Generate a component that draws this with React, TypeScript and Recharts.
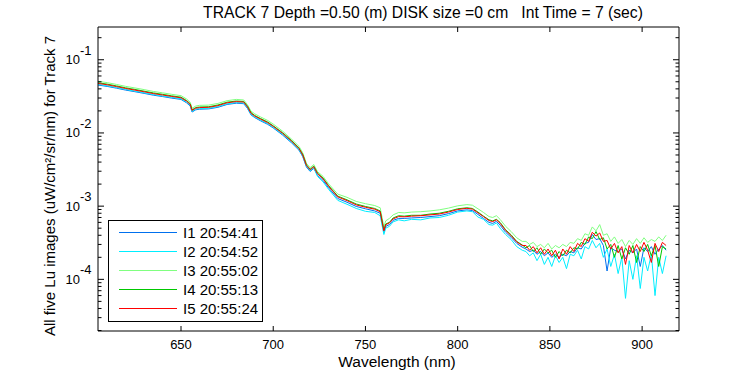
import React from 'react';
import { LineChart, Line, XAxis, YAxis, Legend } from 'recharts';

// wavelength grid (nm)
const wavelength = [
  605, 610, 615, 620, 625, 630, 635, 640, 645, 650,
  653, 655, 656, 658, 660, 665, 670, 675, 680, 684,
  686, 688, 690, 693, 697, 700, 705, 710, 714, 716,
  718, 720, 722, 724, 727, 730, 735, 740, 745, 750,
  755, 758, 760, 761, 763, 765, 768, 771, 775, 780,
  785, 790, 795, 800, 805, 808, 811, 814, 817, 819,
  821, 823, 826, 829, 832, 835,
  837, 839, 841, 843, 845, 847, 849, 851, 853, 855,
  857, 859, 861, 863, 865, 867, 869, 871, 873, 875,
  877, 879, 881, 883, 885, 887, 889, 891, 893, 895,
  897, 899, 901, 903, 905, 907, 909, 911, 913,
];

// Lu values, in units of 1e-4 uW/cm^2/sr/nm
const lu1 = [
  451, 432, 409, 385, 366, 347, 328, 314, 299, 287,
  258, 233, 193, 207, 211, 213, 224, 245, 255, 251,
  217, 176, 162, 147, 131, 117, 94, 73, 58, 47.5,
  34.2, 29.8, 32.8, 26.3, 22.5, 17.8, 12.7, 11.3, 9.9, 9.2,
  8.6, 8.0, 4.4, 5.3, 5.6, 6.4, 6.8, 6.8, 6.9, 7.0,
  7.2, 7.4, 7.9, 8.6, 8.9, 8.7, 7.7, 6.8, 6.0, 5.8,
  6.2, 5.5, 4.4, 3.75, 3.1, 2.75,
  2.6, 2.4, 2.5, 2.2, 2.4, 2.1, 2.3, 2.0, 2.2, 2.0,
  2.2, 2.1, 2.4, 2.3, 2.7, 2.6, 3.1, 3.2, 4.1, 3.5,
  3.6, 2.9, 1.3, 2.7, 2.5, 2.4, 2.6, 1.9, 2.5, 2.3,
  2.6, 1.5, 2.7, 2.4, 2.8, 2.2, 2.6, 2.9, 2.5,
];
const lu2 = [
  461, 441, 417, 393, 373, 354, 335, 320, 306, 293,
  264, 238, 197, 211, 215, 217, 229, 250, 260, 256,
  221, 179, 165, 150, 134, 119, 96, 75, 59, 48.5,
  35, 30.5, 33.5, 25.5, 21.5, 17.0, 12.0, 10.6, 9.3, 8.5,
  8.2, 7.4, 4.1, 5.0, 5.3, 6.1, 6.5, 6.3, 6.6, 6.5,
  6.9, 7.0, 7.5, 8.3, 8.6, 8.4, 7.1, 6.6, 5.6, 5.5,
  5.9, 5.0, 4.1, 3.5, 2.8, 2.5,
  2.4, 2.1, 2.3, 1.8, 2.2, 1.6, 2.0, 1.5, 2.1, 1.7,
  2.0, 1.4, 2.2, 2.1, 2.5, 1.9, 2.8, 2.6, 3.4, 2.7,
  3.1, 2.0, 2.6, 1.5, 2.2, 1.2, 2.0, 0.55, 1.8, 1.0,
  2.1, 0.75, 2.0, 1.3, 2.2, 0.6, 2.0, 1.2, 2.1,
];
const lu3 = [
  508, 487, 460, 433, 412, 391, 369, 353, 337, 323,
  291, 262, 217, 233, 238, 240, 253, 276, 287, 282,
  244, 198, 182, 166, 148, 132, 106, 82, 65.5, 53.5,
  38.5, 33.6, 37.0, 29.6, 25.5, 20.2, 14.6, 13.2, 11.6, 10.8,
  10.2, 9.5, 5.2, 6.3, 6.8, 7.6, 8.2, 8.1, 8.3, 8.4,
  8.6, 8.9, 9.4, 10.1, 10.5, 10.3, 9.2, 8.2, 7.2, 7.0,
  7.4, 6.6, 5.3, 4.5, 3.7, 3.3,
  3.3, 3.0, 3.2, 2.8, 3.0, 2.7, 3.1, 2.6, 2.9, 2.7,
  3.0, 2.8, 3.2, 3.1, 3.6, 3.4, 4.2, 4.0, 5.2, 4.6,
  5.6, 4.0, 4.2, 3.3, 3.8, 3.1, 3.5, 2.8, 3.4, 3.0,
  3.6, 3.1, 3.7, 3.2, 3.5, 3.3, 3.8, 3.4, 4.0,
];
const lu4 = [
  485, 464, 439, 413, 393, 372, 352, 337, 321, 308,
  277, 250, 207, 222, 226, 228, 241, 263, 273, 269,
  233, 189, 173, 158, 141, 125, 101, 78.5, 62, 51,
  36.7, 32, 35.2, 28.3, 24.2, 19.1, 13.7, 12.2, 10.7, 9.9,
  9.3, 8.6, 4.7, 5.7, 6.0, 6.9, 7.4, 7.3, 7.5, 7.5,
  7.8, 8.0, 8.5, 9.2, 9.5, 9.3, 8.3, 7.3, 6.5, 6.3,
  6.6, 6.0, 4.75, 4.05, 3.3, 2.95,
  2.7, 2.9, 2.4, 2.7, 2.2, 2.6, 2.3, 2.5, 2.0, 2.4,
  2.1, 2.5, 2.3, 2.7, 2.6, 3.2, 3.0, 3.8, 3.6, 4.5,
  3.5, 3.7, 2.6, 3.0, 2.0, 2.9, 1.9, 2.7, 2.2, 2.9,
  1.7, 2.8, 2.4, 3.0, 2.1, 2.9, 1.5, 2.8, 2.6,
];
const lu5 = [
  475, 455, 430, 405, 385, 365, 345, 330, 315, 302,
  272, 245, 203, 218, 222, 224, 236, 258, 268, 264,
  228, 185, 170, 155, 138, 123, 99, 77, 61, 50,
  36, 31.4, 34.5, 27.7, 23.7, 18.7, 13.4, 11.9, 10.4, 9.66,
  9.08, 8.38, 4.6, 5.6, 5.9, 6.7, 7.2, 7.15, 7.3, 7.4,
  7.6, 7.8, 8.3, 9.0, 9.35, 9.1, 8.1, 7.2, 6.35, 6.15,
  6.5, 5.85, 4.65, 3.95, 3.25, 2.9,
  2.9, 2.5, 2.8, 2.3, 2.7, 2.2, 2.6, 2.1, 2.5, 1.9,
  2.6, 2.2, 2.8, 2.4, 3.1, 2.8, 3.6, 3.3, 4.4, 3.9,
  4.3, 3.3, 3.4, 2.6, 3.1, 2.3, 2.8, 1.6, 2.9, 2.3,
  3.0, 2.4, 3.2, 2.5, 1.7, 3.1, 2.4, 3.2, 2.9,
];
const UNIT = 1e-4;

const seriesNames = ['I1 20:54:41', 'I2 20:54:52', 'I3 20:55:02', 'I4 20:55:13', 'I5 20:55:24'];
const seriesColors = ['#0070ee', '#00eeff', '#80ff80', '#00c800', '#ff0000'];
const seriesValues = [lu1, lu2, lu3, lu4, lu5];

const xTicks = [650, 700, 750, 800, 850, 900];
const xDomain = [605, 920];
const yDomain = [1.97e-5, 0.28];
const decades = [-5, -4, -3, -2, -1];

const yTicks: number[] = [];
decades.forEach((d) => {
  for (let m = 1; m <= 9; m++) {
    const v = m * Math.pow(10, d);
    if (v >= yDomain[0] && v <= yDomain[1]) yTicks.push(Number(v.toPrecision(3)));
  }
});

const data = wavelength.map((w, i) => {
  const row: Record<string, number> = { w };
  seriesValues.forEach((arr, k) => {
    row['s' + k] = arr[i] * UNIT;
  });
  return row;
});

const FONT = '"Liberation Sans", Arial, sans-serif';

const isMajor = (v: number) => Math.abs(Math.log10(v) - Math.round(Math.log10(v))) < 1e-6;

const LeftTick = (props: any) => {
  const { x, y, payload } = props;
  const v = payload.value;
  const major = isMajor(v);
  return (
    <g>
      <line x1={x} y1={y} x2={x + (major ? 6 : 3.5)} y2={y} stroke="#000" />
      {major && (
        <>
          <text x={x - 18} y={y + 4.5} textAnchor="end" fontSize={13} fontFamily={FONT} fill="#000">
            10
          </text>
          <text x={x - 18} y={y - 5} textAnchor="start" fontSize={13} fontFamily={FONT} fill="#000">
            {Math.round(Math.log10(v))}
          </text>
        </>
      )}
    </g>
  );
};

const RightTick = (props: any) => {
  const { x, y, payload } = props;
  const major = isMajor(payload.value);
  return <line x1={x} y1={y} x2={x - (major ? 6 : 3.5)} y2={y} stroke="#000" />;
};

const BottomTick = (props: any) => {
  const { x, y, payload } = props;
  return (
    <g>
      <line x1={x} y1={y} x2={x} y2={y - 5} stroke="#000" />
      <text x={x} y={y + 18} textAnchor="middle" fontSize={13} fontFamily={FONT} fill="#000">
        {payload.value}
      </text>
    </g>
  );
};

const TopTick = (props: any) => {
  const { x, y } = props;
  return <line x1={x} y1={y} x2={x} y2={y + 5} stroke="#000" />;
};

const LegendBox = (props: any) => {
  const { payload } = props;
  return (
    <div
      style={{
        position: 'absolute',
        left: 0,
        top: 0,
        border: '1px solid #000',
        background: '#fff',
        width: 155,
        height: 102,
        boxSizing: 'border-box',
        paddingTop: 2,
        fontFamily: FONT,
        fontSize: 15,
      }}
    >
      {(payload || []).map((p: any) => (
        <div key={p.value} style={{ display: 'flex', alignItems: 'center', height: 19.1 }}>
          <div style={{ marginLeft: 10, width: 58, height: 1, background: p.color }} />
          <span style={{ marginLeft: 6, whiteSpace: 'nowrap', lineHeight: '19px' }}>{p.value}</span>
        </div>
      ))}
    </div>
  );
};

export default function App() {
  return (
    <div style={{ position: 'absolute', left: 0, top: 0, width: 750, height: 375, background: '#fff' }}>
      <LineChart
        width={750}
        height={375}
        data={data}
        margin={{ top: 26, right: 70, bottom: 43, left: 97 }}
      >
        <XAxis
          xAxisId="b"
          dataKey="w"
          type="number"
          domain={xDomain}
          allowDataOverflow
          ticks={xTicks}
          interval={0}
          height={1}
          tickSize={0}
          tickMargin={0}
          tickLine={false}
          axisLine={{ stroke: '#000' }}
          tick={<BottomTick />}
        />
        <XAxis
          xAxisId="t"
          orientation="top"
          dataKey="w"
          type="number"
          domain={xDomain}
          allowDataOverflow
          ticks={xTicks}
          interval={0}
          height={1}
          tickSize={0}
          tickMargin={0}
          tickLine={false}
          axisLine={{ stroke: '#000' }}
          tick={<TopTick />}
        />
        <YAxis
          yAxisId="l"
          scale="log"
          type="number"
          domain={yDomain}
          allowDataOverflow
          ticks={yTicks}
          interval={0}
          width={1}
          tickSize={0}
          tickMargin={0}
          tickLine={false}
          axisLine={{ stroke: '#000' }}
          tick={<LeftTick />}
        />
        <YAxis
          yAxisId="r"
          orientation="right"
          scale="log"
          type="number"
          domain={yDomain}
          allowDataOverflow
          ticks={yTicks}
          interval={0}
          width={1}
          tickSize={0}
          tickMargin={0}
          tickLine={false}
          axisLine={{ stroke: '#000' }}
          tick={<RightTick />}
        />
        {seriesNames.map((name, k) => (
          <Line
            key={name}
            xAxisId="b"
            yAxisId="l"
            type="linear"
            dataKey={'s' + k}
            name={name}
            stroke={seriesColors[k]}
            strokeWidth={1}
            dot={false}
            isAnimationActive={false}
          />
        ))}
        <Legend
          content={<LegendBox />}
          wrapperStyle={{ position: 'absolute', left: 108, top: 220, width: 0, height: 0, overflow: 'visible' }}
        />
      </LineChart>
      <div
        style={{
          position: 'absolute',
          left: 423,
          top: 13,
          transform: 'translate(-50%, -50%)',
          whiteSpace: 'pre',
          fontFamily: FONT,
          fontSize: 15.7,
        }}
      >
        TRACK 7 Depth =0.50 (m) DISK size =0 cm   Int Time = 7 (sec)
      </div>
      <div
        style={{
          position: 'absolute',
          left: 397,
          top: 362,
          transform: 'translate(-50%, -50%)',
          whiteSpace: 'pre',
          fontFamily: FONT,
          fontSize: 15.5,
        }}
      >
        Wavelength (nm)
      </div>
      <div
        style={{
          position: 'absolute',
          left: 49,
          top: 186,
          transform: 'translate(-50%, -50%) rotate(-90deg)',
          whiteSpace: 'pre',
          fontFamily: FONT,
          fontSize: 15,
        }}
      >
        All five Lu images (uW/cm²/sr/nm) for Track 7
      </div>
    </div>
  );
}
